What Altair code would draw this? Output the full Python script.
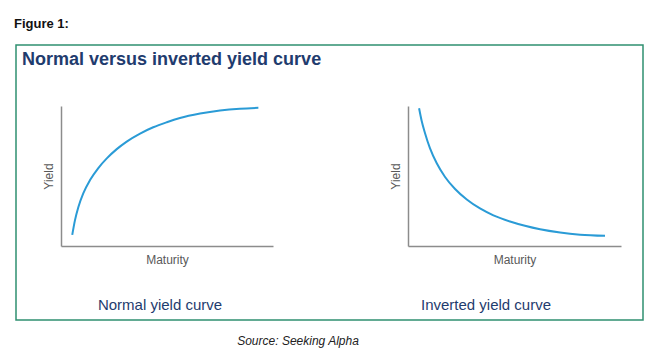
import altair as alt
import pandas as pd

# ---- data ----
normal_maturity = [0.53, 0.66, 0.82, 1.05, 1.37, 1.76, 2.16, 2.63, 3.10, 3.73, 4.35, 4.99,
                   5.61, 6.56, 7.50, 8.44, 9.31]
normal_yield = [0.79, 1.85, 2.79, 3.76, 4.71, 5.57, 6.26, 6.92, 7.46, 8.03, 8.48, 8.84,
                9.14, 9.46, 9.68, 9.81, 9.87]

inverted_maturity = [0.52, 0.64, 0.80, 1.03, 1.35, 1.74, 2.21, 2.76, 3.38, 4.01, 4.79, 5.49,
                     6.20, 7.14, 8.08, 9.25]
inverted_yield = [9.84, 8.95, 8.06, 6.99, 5.91, 4.93, 4.07, 3.32, 2.68, 2.19, 1.75, 1.44,
                  1.19, 0.96, 0.81, 0.73]

figure_label = ["Figure 1:"]
main_title = ["Normal versus inverted yield curve"]
panel_titles = ["Normal yield curve", "Inverted yield curve"]
source_note = ["Source: Seeking Alpha"]
axis_x_title = "Maturity"
axis_y_title = "Yield"

SANS = "'Liberation Sans', Arial, sans-serif"
NAVY = "#1f3c6e"
CURVE = "#2a9bd6"
AXIS = "#8c8c8c"
LABEL = "#595959"

normal_df = pd.DataFrame({"maturity": normal_maturity, "yield": normal_yield})
inverted_df = pd.DataFrame({"maturity": inverted_maturity, "yield": inverted_yield})


def panel(df, x0, x1, y_bottom, y_top, x_axis_offset, y_axis_offset):
    return alt.Chart(df).mark_line(
        color=CURVE, strokeWidth=2, interpolate="monotone"
    ).encode(
        x=alt.X(
            "maturity:Q",
            scale=alt.Scale(domain=[0, 10], range=[x0, x1], nice=False, zero=False),
            axis=alt.Axis(
                orient="bottom", offset=x_axis_offset, labels=False, ticks=False, grid=False,
                title=axis_x_title, titleFont=SANS, titleFontSize=12, titleFontWeight="normal",
                titleColor=LABEL, titlePadding=8, domainColor=AXIS, domainWidth=1.5,
            ),
        ),
        y=alt.Y(
            "yield:Q",
            scale=alt.Scale(domain=[0, 10], range=[y_bottom, y_top], nice=False, zero=False),
            axis=alt.Axis(
                orient="left", offset=y_axis_offset, labels=False, ticks=False, grid=False,
                title=axis_y_title, titleFont=SANS, titleFontSize=12, titleFontWeight="normal",
                titleColor=LABEL, titlePadding=6, domainColor=AXIS, domainWidth=1.5,
            ),
        ),
    )


left = panel(normal_df, 61, 273, 246, 106, -109, -61)
right = panel(inverted_df, 408, 621, 246, 106, -109, -408)

frame = alt.Chart(pd.DataFrame({"k": [0]})).mark_rect(
    fillOpacity=0, stroke="#2f9070", strokeWidth=1.5
).encode(x=alt.value(16), x2=alt.value(643), y=alt.value(45), y2=alt.value(320))

fig_text = alt.Chart(pd.DataFrame({"t": figure_label})).mark_text(
    align="left", baseline="alphabetic", font=SANS,
    fontSize=13, fontWeight="bold", color="#111111"
).encode(text="t:N", x=alt.value(14), y=alt.value(28))

title_text = alt.Chart(pd.DataFrame({"t": main_title})).mark_text(
    align="left", baseline="alphabetic", font=SANS,
    fontSize=18, fontWeight="bold", color=NAVY
).encode(text="t:N", x=alt.value(22), y=alt.value(65))

sub_left = alt.Chart(pd.DataFrame({"t": [panel_titles[0]]})).mark_text(
    align="center", baseline="alphabetic", font=SANS, fontSize=15, color=NAVY
).encode(text="t:N", x=alt.value(160), y=alt.value(310))

sub_right = alt.Chart(pd.DataFrame({"t": [panel_titles[1]]})).mark_text(
    align="center", baseline="alphabetic", font=SANS, fontSize=15, color=NAVY
).encode(text="t:N", x=alt.value(486), y=alt.value(310))

source_text = alt.Chart(pd.DataFrame({"t": source_note})).mark_text(
    align="center", baseline="alphabetic", font=SANS,
    fontSize=12, fontStyle="italic", color="#222222"
).encode(text="t:N", x=alt.value(298), y=alt.value(345))

chart = alt.layer(
    frame, fig_text, title_text, left, right, sub_left, sub_right, source_text
).resolve_scale(
    x="independent", y="independent"
).resolve_axis(
    x="independent", y="independent"
).properties(
    width=666, height=355, padding=0,
    autosize=alt.AutoSizeParams(type="none"),
    background="white",
).configure_view(stroke=None)

chart.save("out.html", embed_options={"renderer": "svg", "actions": False})
